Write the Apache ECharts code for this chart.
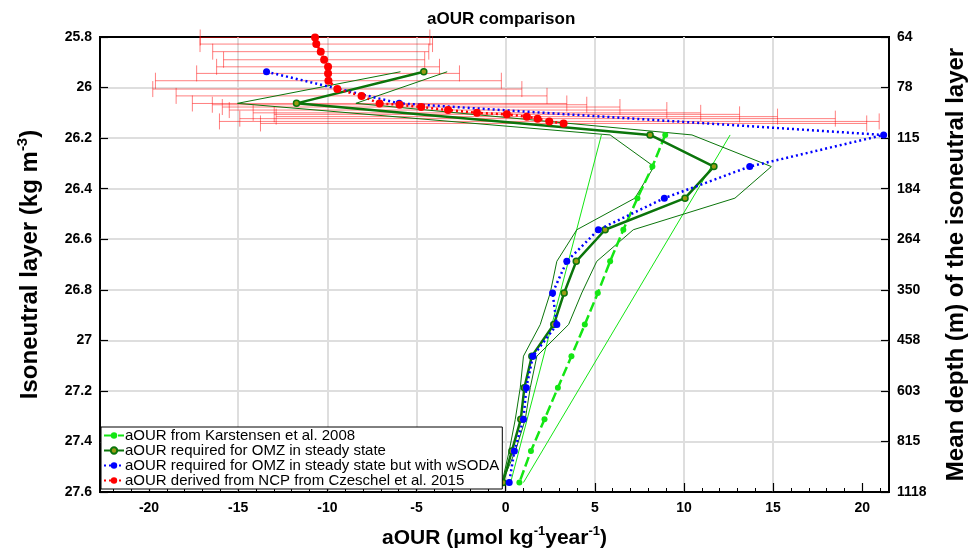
<!DOCTYPE html>
<html>
<head>
<meta charset="utf-8">
<script src="https://cdn.jsdelivr.net/npm/echarts@6/dist/echarts.min.js"></script>
<style>
  html, body { margin: 0; padding: 0; background: #ffffff; }
  #chart { width: 976px; height: 554px; }
</style>
</head>
<body>
<div id="chart"></div>
<script>
// Isoneutral layer centres (kg m^-3)
const layerDensity = [25.9375, 26.0625, 26.1875, 26.3125, 26.4375, 26.5625, 26.6875,
                      26.8125, 26.9375, 27.0625, 27.1875, 27.3125, 27.4375, 27.5625];

// aOUR from Karstensen et al. 2008 (layers below 26.1)
const karstensenDensity = [26.1875, 26.3125, 26.4375, 26.5625, 26.6875, 26.8125,
                           26.9375, 27.0625, 27.1875, 27.3125, 27.4375, 27.5625];
const karstensenAOUR = [8.95, 8.23, 7.39, 6.6, 5.86, 5.17, 4.44, 3.69, 2.93, 2.18, 1.42, 0.77];
const karstensenRangeDensity = [26.1875, 27.5625];
const karstensenLow = [5.37, 0.28];
const karstensenHigh = [12.59, 1.0];

// aOUR required for OMZ in steady state, with its range
const steadyAOUR = [-4.59, -11.73, 8.1, 11.68, 10.06, 5.58, 3.96, 3.28, 2.7, 1.47, 1.05, 0.85, 0.35, -0.15];
const steadyLow  = [-5.9, -15.04, 5.86, 8.32, 7.25, 3.99, 2.87, 2.5, 1.94, 1.0, 0.82, 0.54, 0.2, -0.2];
const steadyHigh = [-3.28, -8.4, 10.45, 14.9, 12.86, 7.16, 5.11, 4.27, 3.53, 1.75, 1.38, 1.1, 0.55, -0.2];

// Same budget using wSODA
const wsodaAOUR = [-13.41, -5.97, 21.2, 13.69, 8.9, 5.2, 3.43, 2.63, 2.87, 1.53, 1.16, 1.0, 0.49, 0.2];

// aOUR derived from NCP (Czeschel et al. 2015) with symmetric error
const czeschelDensity = [25.802, 25.828, 25.858, 25.890, 25.918, 25.944, 25.973, 26.006, 26.033, 26.063,
                         26.068, 26.077, 26.089, 26.100, 26.106, 26.115, 26.123, 26.134, 26.142];
const czeschelAOUR = [-10.69, -10.62, -10.37, -10.18, -9.96, -9.96, -9.94, -9.44, -8.08, -7.07,
                      -5.95, -4.74, -3.23, -1.61, 0.07, 1.19, 1.79, 2.45, 3.25];
const czeschelErr = [6.44, 6.52, 6.06, 5.64, 6.25, 7.37, 9.7, 10.35, 10.4, 10.5,
                     10.5, 11.15, 12.27, 12.55, 13.05, 14.06, 16.7, 18.5, 17.0];

// Axis ticks
const xMajorTicks = [-20, -15, -10, -5, 0, 5, 10, 15, 20];
const xMinorTicks = [];
for (let v = -22; v <= 21; v++) xMinorTicks.push(v);
const depthLabels = ['64', '78', '115', '184', '264', '350', '458', '603', '815', '1118'];

const names = [
  'aOUR from Karstensen et al. 2008',
  'aOUR required for OMZ in steady state',
  'aOUR required for OMZ in steady state but with wSODA',
  'aOUR derived from NCP from Czeschel et al. 2015'
];

const LIME = '#14e614';
const DKGREEN = '#0b750b';
const FONT = '"Liberation Sans", Arial, Helvetica, sans-serif';

function pairs(xs, ys) { return xs.map((x, i) => [x, ys[i]]); }

const errData = czeschelAOUR.map((v, i) => [v, czeschelDensity[i], czeschelErr[i]]);

const tickLabelStyle = { color: '#000', fontWeight: 'bold', fontSize: 14, fontFamily: FONT };
function richName(size, supSize) {
  return {
    n: { fontSize: size, fontWeight: 'bold', fontFamily: FONT, color: '#000', lineHeight: size + 6 },
    s: { fontSize: supSize, fontWeight: 'bold', fontFamily: FONT, color: '#000', verticalAlign: 'top', lineHeight: size + 6 }
  };
}

const chart = echarts.init(document.getElementById('chart'), null, { renderer: 'canvas' });
chart.setOption({
  animation: false,
  backgroundColor: '#ffffff',
  textStyle: { fontFamily: FONT },
  title: {
    text: 'aOUR comparison', left: 422, top: 6,
    textStyle: { fontSize: 17, fontWeight: 'bold', color: '#000', fontFamily: FONT }
  },
  grid: { left: 100, right: 85, top: 37, bottom: 62, show: true, borderColor: '#000', borderWidth: 2 },
  legend: {
    data: names, orient: 'vertical', left: 101, top: 427,
    itemWidth: 20, itemHeight: 8, itemGap: 0,
    backgroundColor: '#fff', borderColor: '#000', borderWidth: 1, padding: [1, 3, 1, 2],
    textStyle: { fontSize: 15, color: '#000', fontFamily: FONT, padding: [0, 0, 0, -4] }
  },
  xAxis: [{
    type: 'value', min: -22.75, max: 21.5, position: 'bottom',
    axisLine: { show: true, onZero: false, lineStyle: { color: '#000', width: 1.5 } },
    axisTick: { show: true, inside: true, length: 9, customValues: xMajorTicks, lineStyle: { color: '#000', width: 1.2 } },
    axisLabel: { customValues: xMajorTicks, margin: 9, ...tickLabelStyle },
    splitLine: { show: true, showMinLine: false, showMaxLine: false, lineStyle: { color: '#dedede', width: 2 } },
    name: '{n|aOUR (μmol kg}{s|-1}{n|year}{s|-1}{n|)}',
    nameLocation: 'middle', nameGap: 33,
    nameTextStyle: { rich: richName(21, 13) }
  }, {
    type: 'value', min: -22.75, max: 21.5, position: 'bottom',
    axisLine: { show: false, onZero: false },
    axisTick: { show: true, inside: true, length: 4, customValues: xMinorTicks, lineStyle: { color: '#000', width: 1 } },
    axisLabel: { show: false },
    splitLine: { show: false }
  }],
  yAxis: [{
    type: 'value', min: 25.8, max: 27.6, interval: 0.2, inverse: true, position: 'left',
    axisLine: { show: true, onZero: false, lineStyle: { color: '#000', width: 1.5 } },
    axisTick: { show: true, inside: true, length: 8, lineStyle: { color: '#000', width: 1.2 } },
    axisLabel: { margin: 8, ...tickLabelStyle },
    splitLine: { show: true, showMinLine: false, showMaxLine: false, lineStyle: { color: '#dedede', width: 2 } },
    name: '{n|Isoneutral layer (kg m}{s|-3}{n|)}',
    nameLocation: 'middle', nameGap: 55, nameRotate: 90,
    nameTextStyle: { rich: richName(24, 15) }
  }, {
    type: 'value', min: 25.8, max: 27.6, interval: 0.2, inverse: true, position: 'right',
    axisLine: { show: true, onZero: false, lineStyle: { color: '#000', width: 1.5 } },
    axisTick: { show: true, inside: true, length: 8, lineStyle: { color: '#000', width: 1.2 } },
    axisLabel: {
      margin: 8, ...tickLabelStyle,
      formatter: (v) => depthLabels[Math.round((v - 25.8) / 0.2)]
    },
    splitLine: { show: false },
    name: 'Mean depth (m) of the isoneutral layer',
    nameLocation: 'middle', nameGap: 55, nameRotate: 90,
    nameTextStyle: { fontSize: 24, fontWeight: 'bold', color: '#000', fontFamily: FONT }
  }],
  series: [
    {
      // Czeschel error bars
      type: 'custom', silent: true, z: 1,
      data: errData,
      renderItem: function (params, api) {
        const x = api.value(0), y = api.value(1), e = api.value(2);
        const p1 = api.coord([x - e, y]);
        const p2 = api.coord([x + e, y]);
        const cap = 8;
        const style = { stroke: 'rgba(255,0,0,0.5)', lineWidth: 1, fill: null };
        return {
          type: 'group',
          children: [
            { type: 'line', shape: { x1: p1[0], y1: p1[1], x2: p2[0], y2: p2[1] }, style },
            { type: 'line', shape: { x1: p1[0], y1: p1[1] - cap, x2: p1[0], y2: p1[1] + cap }, style },
            { type: 'line', shape: { x1: p2[0], y1: p2[1] - cap, x2: p2[0], y2: p2[1] + cap }, style }
          ]
        };
      }
    },
    { type: 'line', silent: true, z: 2, symbol: 'none', data: pairs(karstensenLow, karstensenRangeDensity),
      lineStyle: { color: LIME, width: 1 } },
    { type: 'line', silent: true, z: 2, symbol: 'none', data: pairs(karstensenHigh, karstensenRangeDensity),
      lineStyle: { color: LIME, width: 1 } },
    { type: 'line', silent: true, z: 2, symbol: 'none', data: pairs(steadyLow, layerDensity),
      lineStyle: { color: DKGREEN, width: 1 } },
    { type: 'line', silent: true, z: 2, symbol: 'none', data: pairs(steadyHigh, layerDensity),
      lineStyle: { color: DKGREEN, width: 1 } },
    {
      name: names[0], type: 'line', z: 3, data: pairs(karstensenAOUR, karstensenDensity),
      symbol: 'circle', symbolSize: 6,
      itemStyle: { color: LIME },
      lineStyle: { color: LIME, width: 2.5, type: [10, 4] }
    },
    {
      name: names[1], type: 'line', z: 3, data: pairs(steadyAOUR, layerDensity),
      symbol: 'circle', symbolSize: 6,
      itemStyle: { color: '#9a9a14', borderColor: DKGREEN, borderWidth: 1.5 },
      lineStyle: { color: DKGREEN, width: 2.5 }
    },
    {
      name: names[2], type: 'line', z: 4, data: pairs(wsodaAOUR, layerDensity),
      symbol: 'circle', symbolSize: 7,
      itemStyle: { color: '#0000ff' },
      lineStyle: { color: '#0000ff', width: 2.5, type: [2, 3] }
    },
    {
      name: names[3], type: 'line', z: 5, data: pairs(czeschelAOUR, czeschelDensity),
      symbol: 'circle', symbolSize: 8,
      itemStyle: { color: '#ff0000' },
      lineStyle: { color: '#ff0000', width: 2.5, type: [2, 3] }
    }
  ]
});
</script>
</body>
</html>
